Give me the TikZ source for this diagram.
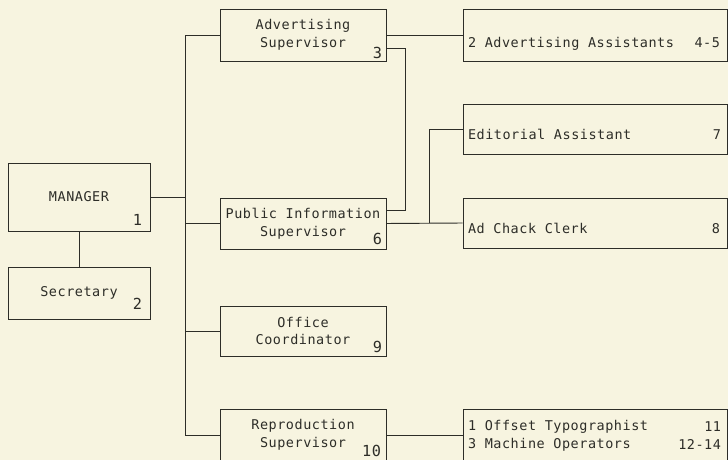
\documentclass[tikz,border=0pt]{standalone}
\usepackage{fontspec}
\setmonofont{DejaVu Sans Mono}[LetterSpace=4.0]
\usetikzlibrary{calc}
\definecolor{papel}{RGB}{247,244,224}
\definecolor{tinta}{RGB}{45,45,40}
\newcommand{\orgfont}{\ttfamily\fontsize{11.5}{15.3}\selectfont}

\begin{document}
\begin{tikzpicture}[x=0.03cm, y=-0.03cm, line width=0.8pt, color=tinta,
    caja/.style={draw, rectangle, inner sep=0pt, font=\orgfont, align=center},
    cajaizq/.style={caja, minimum width=4.26cm},
    cajamed/.style={caja, minimum width=4.98cm},
    cajader/.style={caja, minimum width=7.92cm},
    txt/.style={inner sep=0pt, font=\orgfont},
    num/.style={inner sep=0pt, anchor=base east, font=\ttfamily\fontsize{13}{15}\selectfont}]
    \path[use as bounding box, fill=papel] (0,0) rectangle (728,460);
    % manager and secretary
    \node[cajaizq, minimum height=2.04cm] (mgr) at (79,197) {MANAGER};
    \node[cajaizq, minimum height=1.56cm] (sec) at (79,293) {Secretary};
    \node[num] (mgr-n) at ($(mgr.south east)+(-8,-6)$) {1};
    \node[num] (sec-n) at ($(sec.south east)+(-8,-10)$) {2};
    % supervisors
    \node[cajamed, minimum height=1.56cm] (adv) at (303,35) {Advertising\\Supervisor};
    \node[cajamed, minimum height=1.53cm] (pub) at (303,223.5) {Public Information\\Supervisor};
    \node[cajamed, minimum height=1.5cm] (off) at (303,331) {Office\\Coordinator};
    \node[cajamed, minimum height=1.56cm] (rep) at (303,435) {Reproduction\\Supervisor};
    \node[num] (adv-n) at ($(adv.south east)+(-4,-3)$) {3};
    \node[num] (pub-n) at ($(pub.south east)+(-4,-5)$) {6};
    \node[num] (off-n) at ($(off.south east)+(-4,-4)$) {9};
    \node[num] (rep-n) at ($(rep.south east)+(-5,-5)$) {10};
    % staff on the right
    \node[cajader, minimum height=1.56cm] (asst) at (595,35) {};
    \node[cajader, minimum height=1.5cm] (edit) at (595,129) {};
    \node[cajader, minimum height=1.5cm] (chk) at (595,223) {};
    \node[cajader, minimum height=1.56cm] (ops) at (595,435) {};
    \node[txt, anchor=base west] (asst-t) at ($(asst.west)+(5,13)$) {2 Advertising Assistants};
    \node[txt, anchor=base east] (asst-n) at ($(asst.east)+(-7,13)$) {4-5};
    \node[txt, anchor=base west] (edit-t) at ($(edit.west)+(5,11)$) {Editorial Assistant};
    \node[txt, anchor=base east] (edit-n) at ($(edit.east)+(-6,11)$) {7};
    \node[txt, anchor=base west] (chk-t) at ($(chk.west)+(5,11)$) {Ad Chack Clerk};
    \node[txt, anchor=base east] (chk-n) at ($(chk.east)+(-7,11)$) {8};
    \node[txt, anchor=west, align=left] (ops-t) at ($(ops.west)+(5,1)$) {1 Offset Typographist\\3 Machine Operators};
    \node[txt, anchor=east, align=right] (ops-n) at ($(ops.east)+(-6,1)$) {11\\12-14};
    % trunk from the manager
    \coordinate (bus) at (185,0);
    \draw (adv.west) -- (adv.west -| bus) -- (rep.west -| bus) -- (rep.west);
    \draw (mgr.east) -- (mgr.east -| bus);
    \foreach \b in {pub,off} \draw (\b.west) -- (\b.west -| bus);
    \draw (mgr.south) -- (sec.north);
    % links on the right
    \draw (adv.east) -- (asst.west);
    \draw ($(adv.east)+(0,13)$) -- ++(19,0) |- ($(pub.east)+(0,-13)$);
    \draw (pub.east) -- (chk.west);
    \draw ($(pub.east)!0.57!(chk.west)$) |- (edit.west);
    \draw (rep.east) -- (ops.west);
\end{tikzpicture}
\end{document}
